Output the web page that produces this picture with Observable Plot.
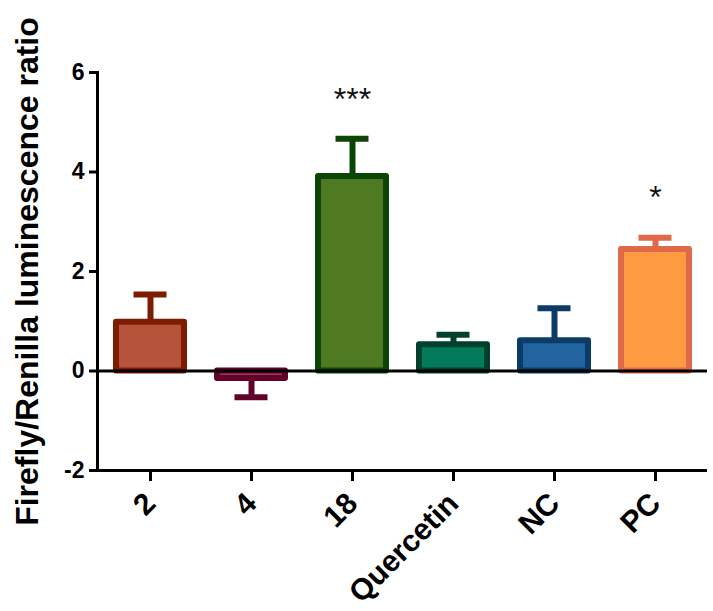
<!DOCTYPE html>
<html>
<head>
<meta charset="utf-8">
<script src="https://cdn.jsdelivr.net/npm/d3@7"></script>
<script src="https://cdn.jsdelivr.net/npm/@observablehq/plot@0.6"></script>
<style>
  html, body { margin: 0; padding: 0; background: #fff; }
  svg { font-family: "Liberation Sans", Arial, sans-serif; }
</style>
</head>
<body>
<div id="chart"></div>
<script>
const categories = ["2", "4", "18", "Quercetin", "NC", "PC"];
const values     = [0.98, -0.15, 3.91, 0.53, 0.61, 2.44];
const errorEnds  = [1.54, -0.53, 4.67, 0.73, 1.26, 2.68];
const fills      = ["#b5543a", "#a3365c", "#4f7a22", "#047a5c", "#2264a0", "#fd9a42"];
const strokes    = ["#7d1c00", "#63002a", "#0b4507", "#00402c", "#0d3b68", "#e0694a"];
const yTicks     = [-2, 0, 2, 4, 6];
const starLabels = [{cat: "18", text: "***", y: 5.24}, {cat: "PC", text: "*", y: 3.27}];
const yLabel     = "Firefly/Renilla luminescence ratio";

const data = categories.map((c, i) => ({
  cat: c, value: values[i], err: errorEnds[i], fill: fills[i], stroke: strokes[i]
}));

const chart = Plot.plot({
  width: 713,
  height: 611,
  marginLeft: 97,
  marginRight: 6,
  marginTop: 72,
  marginBottom: 141,
  style: {fontFamily: "Liberation Sans, Arial, sans-serif", color: "#000", background: "#fff"},
  x: {domain: categories, paddingInner: 0.33, paddingOuter: 0.18, label: null},
  y: {domain: [-2, 6], label: null},
  marks: [
    Plot.ruleX(data, {x: "cat", y1: "value", y2: "err", stroke: d => d.stroke, strokeWidth: 6}),
    Plot.tickY(data, {x: "cat", y: "err", stroke: d => d.stroke, strokeWidth: 6, insetLeft: 17.5, insetRight: 17.5}),
    Plot.barY(data, {x: "cat", y: "value", fill: d => d.fill, stroke: d => d.stroke, strokeWidth: 6, strokeLinejoin: "round"}),
    Plot.ruleY([0], {stroke: "#000", strokeWidth: 3}),
    Plot.ruleY([-2], {stroke: "#000", strokeWidth: 3}),
    Plot.frame({anchor: "left", stroke: "#000", strokeWidth: 3}),
    Plot.axisY({ticks: yTicks, tickSize: 8, tickPadding: 5, fontSize: 23, fontWeight: "bold", strokeWidth: 3, label: null, tickFormat: d => String(d)}),
    Plot.axisX({tickSize: 11, tickPadding: 17, tickRotate: -45, fontSize: 30, fontWeight: "bold", strokeWidth: 3, label: null}),
    Plot.text(starLabels, {x: "cat", y: "y", text: "text", fontSize: 32, lineAnchor: "bottom", fill: "#111"}),
    Plot.text([yLabel], {frameAnchor: "left", dx: -60, rotate: -90, text: d => d, fontSize: 32, fontWeight: "bold", textAnchor: "middle", lineAnchor: "bottom", fill: "#000"})
  ]
});
document.getElementById("chart").appendChild(chart);
</script>
</body>
</html>
